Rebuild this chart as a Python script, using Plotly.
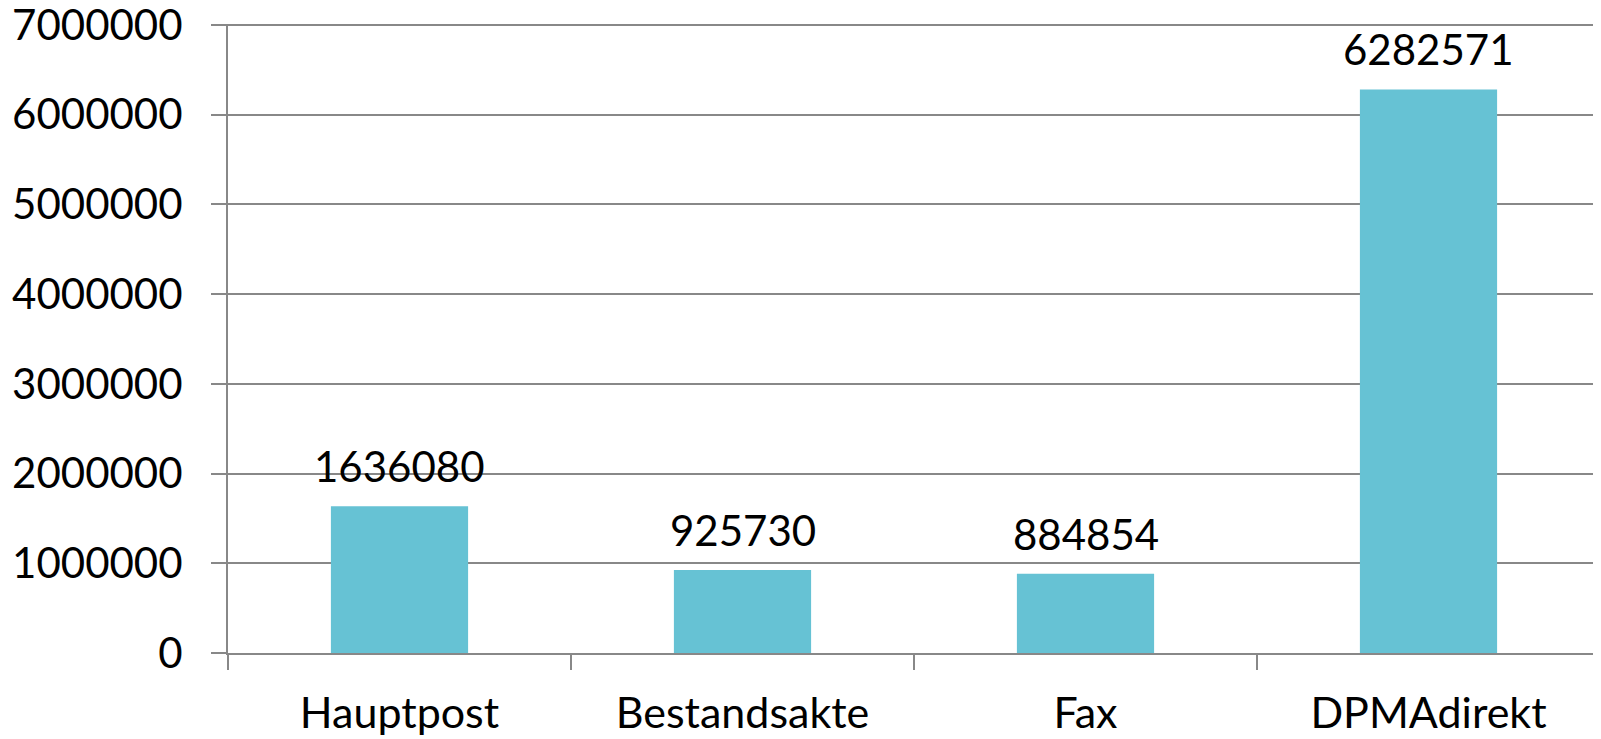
import plotly.graph_objects as go

categories = ["Hauptpost", "Bestandsakte", "Fax", "DPMAdirekt"]
values = [1636080, 925730, 884854, 6282571]
y_ticks = [0, 1000000, 2000000, 3000000, 4000000, 5000000, 6000000, 7000000]

FONT = "Lato"
GRID = "#888888"

fig = go.Figure()
fig.add_trace(go.Bar(
    x=categories, y=values,
    marker=dict(color="#66C2D4", line=dict(width=0)),
    width=0.4,
    hoverinfo="x+y",
))

for c, v in zip(categories, values):
    fig.add_annotation(
        x=c, y=v, text=str(v), showarrow=False,
        yanchor="bottom", yshift=13,
        font=dict(family=FONT, size=42, color="black"),
    )

fig.update_layout(
    width=1593, height=731,
    margin=dict(l=220, r=1, t=16, b=86),
    plot_bgcolor="white", paper_bgcolor="white",
    showlegend=False,
    font=dict(family=FONT, size=42, color="black"),
    bargap=0.6,
)
fig.update_xaxes(
    type="category", automargin=False,
    showline=True, linecolor=GRID, linewidth=2,
    ticks="outside", tickson="boundaries", ticklen=15, tickcolor=GRID, tickwidth=2,
    showgrid=False,
    tickfont=dict(family=FONT, size=43, color="black"),
    ticklabelstandoff=21,
    ticklabeloverflow="allow",
)
fig.update_yaxes(
    range=[0, 7012000], automargin=False,
    tickvals=y_ticks, ticktext=[str(t) for t in y_ticks],
    showline=True, linecolor=GRID, linewidth=2,
    ticks="outside", ticklen=15, tickcolor=GRID, tickwidth=2,
    showgrid=True, gridcolor=GRID, gridwidth=2,
    zeroline=False,
    tickfont=dict(family=FONT, size=42, color="black"),
    ticklabelstandoff=20,
    ticklabeloverflow="allow",
)

fig.write_html("out.html")
